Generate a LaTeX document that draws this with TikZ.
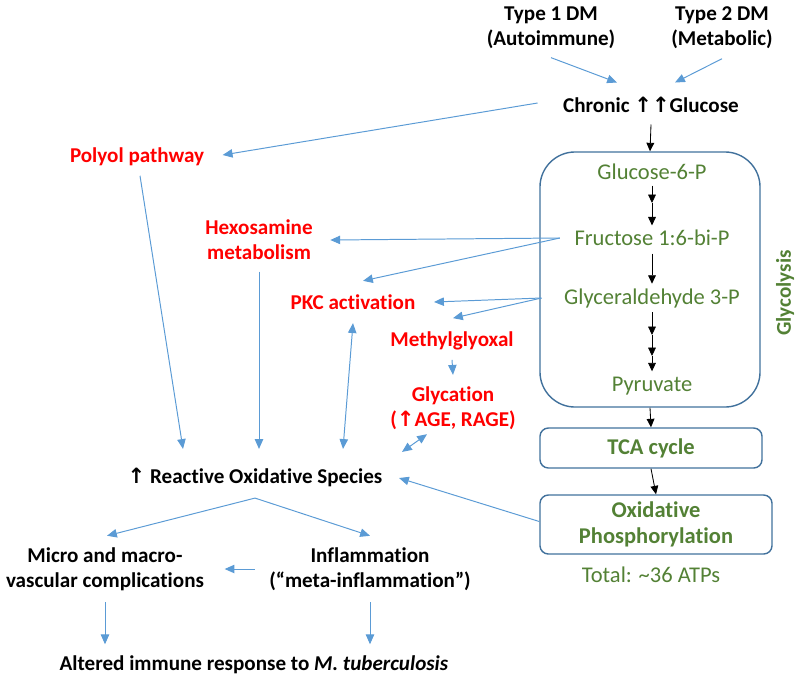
\documentclass[tikz,border=0pt]{standalone}
\usepackage{fontspec}
\setmainfont{Carlito}[Ligatures=NoCommon]
\newfontfamily\arrowfont{DejaVu Sans}
\usetikzlibrary{arrows.meta,positioning,calc}
\definecolor{linkblue}{HTML}{5B9BD5}
\definecolor{boxblue}{HTML}{41719C}
\definecolor{glygreen}{HTML}{538135}
\newcommand{\uparr}{{\arrowfont\char"2191}}

\begin{document}
\begin{tikzpicture}[x=0.025cm,y=-0.025cm,
    lbl/.style={font=\fontsize{15}{17.8}\selectfont\bfseries, align=center, inner sep=1pt},
    red lbl/.style={lbl, text=red},
    green lbl/.style={font=\fontsize{16}{19}\selectfont, text=glygreen, align=center, inner sep=1pt},
    phase box/.style={draw=boxblue, line width=1pt, rounded corners=6pt, text=glygreen, font=\fontsize{16}{19}\selectfont\bfseries, align=center},
    link/.style={draw=linkblue, line width=0.7pt, -{Triangle[length=7pt,width=6pt]}},
    both link/.style={link, {Triangle[length=7pt,width=6pt]}-{Triangle[length=7pt,width=6pt]}},
    flow arrow/.style={draw=black, line width=0.6pt, -{Triangle[length=6pt,width=5.5pt]}}]
    \useasboundingbox (0,0) rectangle (800,679);

    % Diabetes types and hyperglycaemia
    \node[lbl] (t1dm) at (551,28) {Type 1 DM\\(Autoimmune)};
    \node[lbl] (t2dm) at (722,28) {Type 2 DM\\(Metabolic)};
    \node[lbl] (glucose) at (651,105) {Chronic \uparr\uparr Glucose};

    % Glycolysis and mitochondria
    \node[draw=boxblue, line width=1pt, rounded corners=25pt, minimum width=5.5cm, minimum height=6.375cm] (glybox) at (650,279.5) {};
    \node[green lbl] (g6p) at (652,172) {Glucose-6-P};
    \node[green lbl] (f16) at (652,238) {Fructose 1:6-bi-P};
    \node[green lbl] (g3p) at (652,298) {Glyceraldehyde 3-P};
    \node[green lbl] (pyr) at (652,386) {Pyruvate};
    \node[lbl, text=glygreen, rotate=90] (glylbl) at (785,293) {Glycolysis};
    \node[phase box, minimum width=5.55cm, minimum height=1cm] (tca) at (651,448) {TCA cycle};
    \node[phase box, minimum width=5.8cm, minimum height=1.475cm] (oxphos) at (656,524.5) {Oxidative\\Phosphorylation};
    \node[green lbl] (total) at (651,575) {Total: \textasciitilde36 ATPs};

    % Damage pathways
    \node[red lbl] (polyol) at (137,157) {Polyol pathway};
    \node[red lbl] (hexos) at (259,240) {Hexosamine\\metabolism};
    \node[red lbl] (pkc) at (353,302) {PKC activation};
    \node[red lbl] (methyl) at (452,341) {Methylglyoxal};
    \node[red lbl] (glycation) at (453,408) {Glycation\\(\uparr AGE, RAGE)};

    % Outcomes
    \node[lbl] (ros) at (255,477) {\uparr{} Reactive Oxidative Species};
    \node[lbl] (micro) at (105,569) {Micro and macro-\\vascular complications};
    \node[lbl] (inflam) at (370,569) {Inflammation\\(“meta-inflammation”)};
    \node[lbl] (altered) at (254,665) {Altered immune response to \textit{M. tuberculosis}};

    % glycolysis steps
    \coordinate (c1) at (652,203);
    \coordinate (c2) at (652,335);
    \coordinate (c3) at (652,356);
    \draw[flow arrow] ($(glucose.south)+(0,10)$) -- (glybox.north);
    \draw[flow arrow] ($(g6p.south)+(0,4)$) -- (c1);
    \draw[flow arrow] (c1) -- ($(f16.north)+(0,-3)$);
    \draw[flow arrow] ($(f16.south)+(0,6)$) -- ($(g3p.north)+(0,-3)$);
    \draw[flow arrow] ($(g3p.south)+(0,3)$) -- (c2);
    \draw[flow arrow] (c2) -- (c3);
    \draw[flow arrow] (c3) -- ($(pyr.north)+(0,-4)$);
    \draw[flow arrow] (glybox.south) -- (tca.north);
    \draw[flow arrow] (tca.south) -- (oxphos.north);

    % blue links
    \draw[link] ($(t1dm.south)+(0,7)$) -- ($(glucose.north)+(-34,-13)$);
    \draw[link] ($(t2dm.south)+(0,8)$) -- ($(glucose.north)+(24,-13)$);
    \draw[link] ($(glucose.west)+(-24,-2)$) -- ($(polyol.east)+(17,-2)$);
    \draw[link] ($(polyol.south)+(3,8)$) -- ($(ros.north)+(-72,-17)$);
    \draw[link] ($(hexos.south)+(0,10)$) -- ($(ros.north)+(4,-17)$);
    \draw[link] ($(f16.west)+(-13,0)$) -- ($(hexos.east)+(16,0)$);
    \draw[link] ($(f16.west)+(-13,0)$) -- ($(pkc.north)+(10,-12)$);
    \draw[link] ($(g3p.west)+(-21,0)$) -- ($(pkc.east)+(17,0)$);
    \draw[link] ($(g3p.west)+(-21,0)$) -- ($(methyl.north)+(1,-12)$);
    \draw[link] ($(methyl.south)+(0,8)$) -- ($(glycation.north)+(0,-10)$);
    \draw[both link] ($(glycation.south)+(-26,3)$) -- ($(ros.north)+(147,-14)$);
    \draw[both link] ($(pkc.south)+(0,12)$) -- ($(ros.north)+(88,-17)$);
    \draw[link] ($(oxphos.west)+(0,-3)$) -- ($(ros.east)+(15,1)$);
    \draw[link] ($(ros.south)+(0,10)$) -- ($(micro.north)+(2,-10)$);
    \draw[link] ($(ros.south)+(0,10)$) -- ($(inflam.north)+(0,-10)$);
    \draw[link] ($(inflam.west)+(-13,0)$) -- ($(micro.east)+(19,0)$);
    \draw[link] ($(micro.south)+(0,10)$) -- ($(altered.north)+(-149,-10)$);
    \draw[link] ($(inflam.south)+(0,10)$) -- ($(altered.north)+(116,-10)$);
\end{tikzpicture}
\end{document}
